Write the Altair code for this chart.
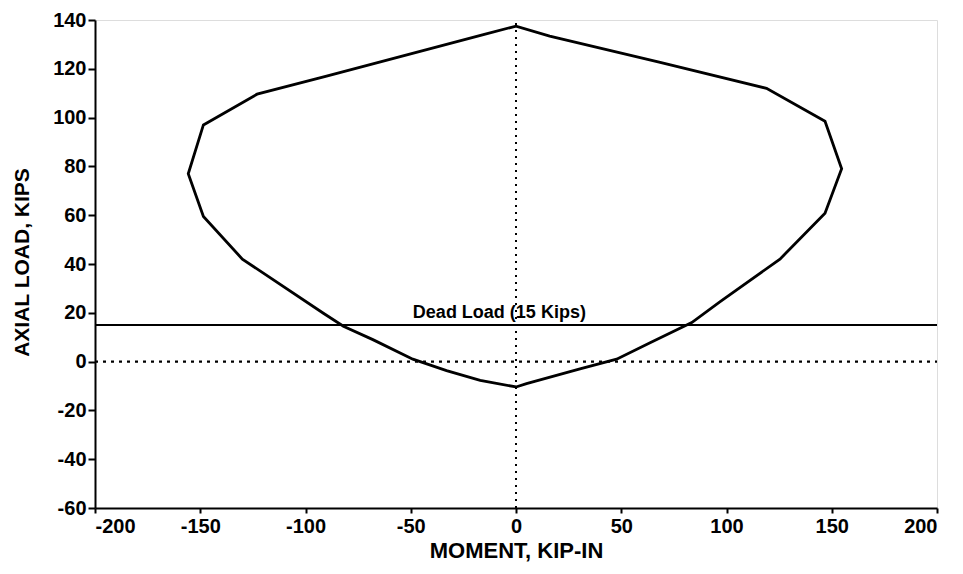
import altair as alt
import pandas as pd

# Interaction curve (moment, axial load) traced around the envelope
moment = [0, -17, -33, -49, -68, -82, -91.5, -130, -148.5, -155.7, -148.5, -123, -90, -15.5, 0,
          16, 68, 119, 146.8, 154.7, 146.8, 125.4, 97, 83.5, 63.7, 47.8, 30.4, 5, 0]
axial = [-10.4, -7.7, -3.7, 1, 9, 14.5, 19.8, 42, 59.5, 77, 97, 109.6, 117, 134, 137.5,
         133.4, 122.7, 112, 98.5, 79, 60.8, 42, 24.6, 16, 7.7, 1, -3, -9, -10.4]

x_ticks = [-200, -150, -100, -50, 0, 50, 100, 150, 200]
y_ticks = [-60, -40, -20, 0, 20, 40, 60, 80, 100, 120, 140]

dead_load = 15
dead_label = "Dead Load (15 Kips)"
label_x = -49

FONT = "Liberation Sans"

curve_df = pd.DataFrame({"m": moment, "p": axial, "i": list(range(len(moment)))})

xs = alt.Scale(domain=[-200, 200], nice=False, zero=False)
ys = alt.Scale(domain=[-60, 140], nice=False, zero=False)

curve = alt.Chart(curve_df).mark_line(color="black", strokeWidth=2.8).encode(
    x=alt.X("m:Q", scale=xs, title="MOMENT, KIP-IN",
            axis=alt.Axis(values=x_ticks, grid=False, tickSize=5, labelPadding=3,
                          labelExpr="toString(datum.value)",
                          labelFontSize=20, labelFont=FONT, labelFontWeight="bold",
                          labelColor="black", domainColor="black", domainWidth=2,
                          tickColor="black", tickWidth=2,
                          titleFont=FONT, titleFontSize=22, titleFontWeight="bold",
                          titleColor="black", titleX=421, titleY=42,
                          titleAlign="center", titleBaseline="middle")),
    y=alt.Y("p:Q", scale=ys, title="AXIAL LOAD, KIPS",
            axis=alt.Axis(values=y_ticks, grid=False, tickSize=7, labelPadding=2,
                          labelExpr="toString(datum.value)",
                          labelFontSize=20, labelFont=FONT, labelFontWeight="bold",
                          labelColor="black", domainColor="black", domainWidth=2,
                          tickColor="black", tickWidth=2,
                          titleFont=FONT, titleFontSize=21, titleFontWeight="bold",
                          titleColor="black", titleX=-73, titleY=242, titleAngle=270,
                          titleAlign="center", titleBaseline="middle")),
    order="i:Q",
)

zero_h = alt.Chart(pd.DataFrame({"y": [0], "x1": [-200], "x2": [200]})).mark_rule(
    color="black", strokeWidth=2.2, strokeDash=[3, 5]).encode(
    y=alt.Y("y:Q", scale=ys), x=alt.X("x1:Q", scale=xs), x2="x2:Q")

zero_v = alt.Chart(pd.DataFrame({"x": [0], "y1": [-60], "y2": [140]})).mark_rule(
    color="black", strokeWidth=2, strokeDash=[2, 5]).encode(
    x=alt.X("x:Q", scale=xs), y=alt.Y("y1:Q", scale=ys), y2="y2:Q")

dl = alt.Chart(pd.DataFrame({"y": [dead_load], "x1": [-200], "x2": [200]})).mark_rule(
    color="black", strokeWidth=2).encode(
    y=alt.Y("y:Q", scale=ys), x=alt.X("x1:Q", scale=xs), x2="x2:Q")

dl_text = alt.Chart(pd.DataFrame({"x": [label_x], "y": [dead_load], "t": [dead_label]})).mark_text(
    align="left", baseline="bottom", dy=-3, font=FONT, fontSize=18, fontWeight="bold",
    color="black").encode(
    x=alt.X("x:Q", scale=xs), y=alt.Y("y:Q", scale=ys), text="t:N")

chart = alt.layer(zero_h, zero_v, dl, curve, dl_text).properties(
    width=842, height=488,
    autosize=alt.AutoSizeParams(type="none"),
    padding={"left": 87, "top": 12, "right": 10, "bottom": 56},
).configure_view(stroke="black", strokeWidth=2).configure(background="white")

chart.save("out.html", embed_options={"renderer": "svg", "actions": False})
